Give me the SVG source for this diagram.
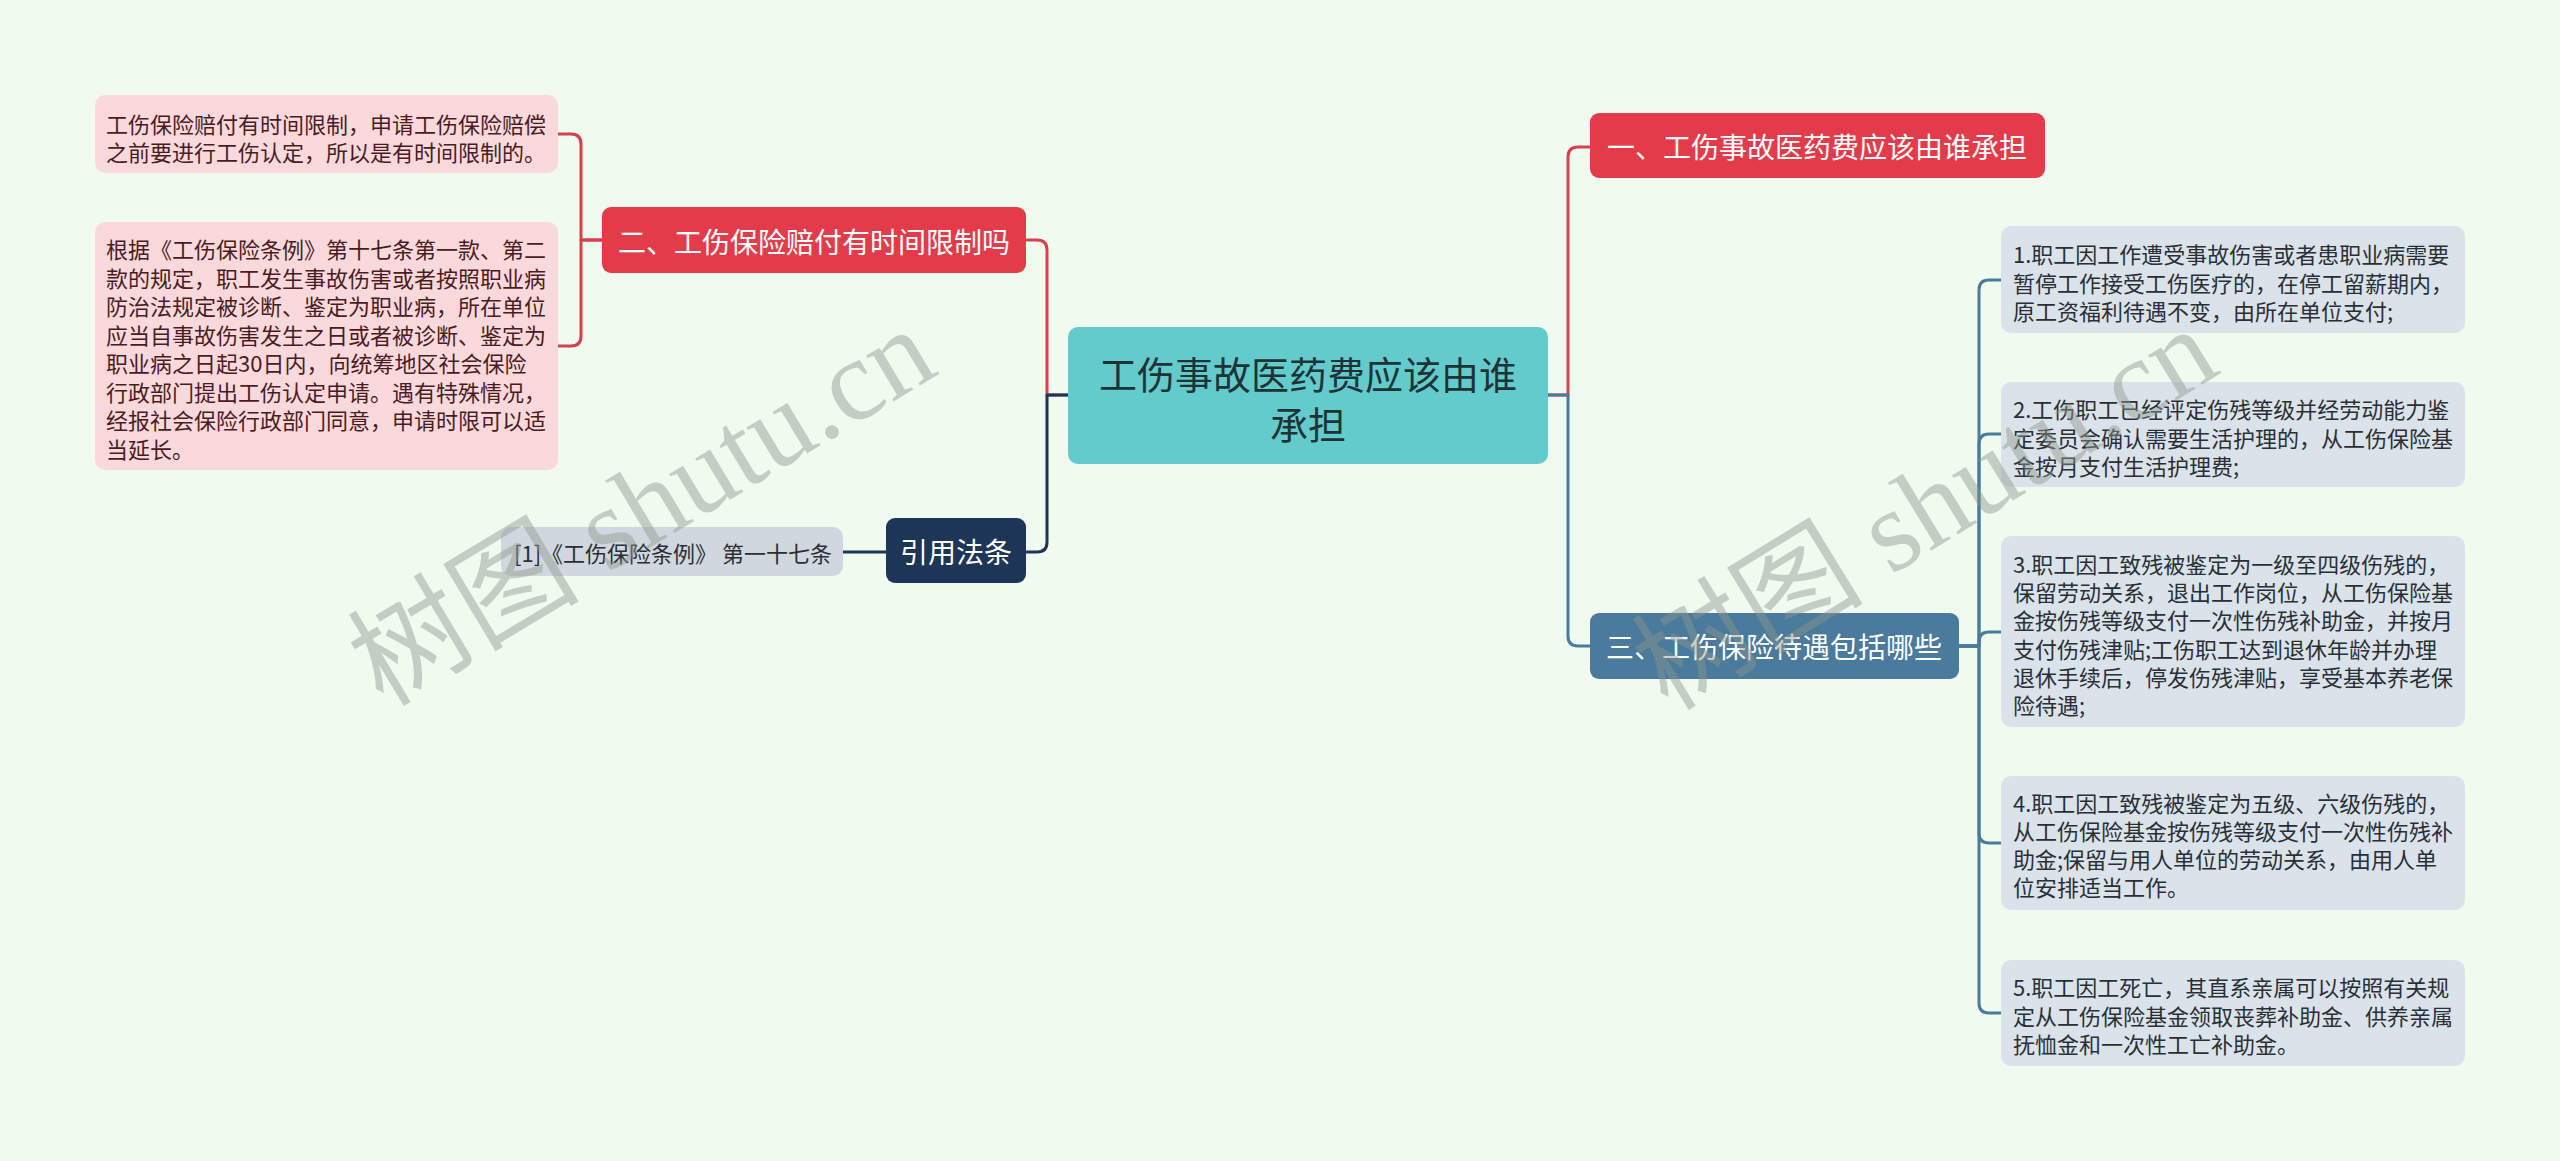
<svg xmlns="http://www.w3.org/2000/svg" width="2560" height="1161" viewBox="0 0 2560 1161">
<style>
text{font-family:"Noto Sans CJK SC","Noto Sans",sans-serif;}
.leaf{font-size:22px;dominant-baseline:central;}
.pk{fill:#4a1c22;}
.bl{fill:#2a2f36;}
.br{font-size:28px;fill:#ffffff;text-anchor:middle;dominant-baseline:central;}
.ctr{font-size:38px;fill:#1d3436;text-anchor:middle;dominant-baseline:central;}
.conn path{fill:none;stroke-width:3;stroke-linecap:round;stroke-linejoin:round;}
.red{stroke:#d9404e;}
.blu{stroke:#4a7a9c;}
.nav{stroke:#1d3557;}
.wm{font-family:"Liberation Serif","Noto Sans CJK SC",serif;font-size:116px;fill:#8e988e;opacity:0.45;}
</style>
<rect width="2560" height="1161" fill="#f0faef"/>

<g id="connectors" class="conn">
  <path class="red" d="M1068 395 H1047 V250 Q1047 240 1037 240 H1027"/>
  <path class="nav" d="M1068 395 H1047 V542 Q1047 552 1037 552 H1027"/>
  <path class="red" d="M602 240 H581 V144 Q581 134 571 134 H558"/>
  <path class="red" d="M602 240 H581 V336 Q581 346 571 346 H558"/>
  <path class="nav" d="M886 552 H843"/>
  <path class="red" d="M1548 395 H1568 V157 Q1568 147 1578 147 H1590"/>
  <path class="blu" d="M1548 395 H1568 V636 Q1568 646 1578 646 H1590"/>
  <path class="blu" d="M1959 646 H1979 V290 Q1979 280 1989 280 H2001"/>
  <path class="blu" d="M1959 646 H1979 V444 Q1979 434 1989 434 H2001"/>
  <path class="blu" d="M1959 646 H1979 V642 Q1979 632 1989 632 H2001"/>
  <path class="blu" d="M1959 646 H1979 V833 Q1979 843 1989 843 H2001"/>
  <path class="blu" d="M1959 646 H1979 V1003 Q1979 1013 1989 1013 H2001"/>
</g>

<g id="center">
  <rect x="1068" y="327" width="480" height="137" rx="10" fill="#63cbcc"/>
  <text class="ctr" x="1308" y="372">工伤事故医药费应该由谁</text>
  <text class="ctr" x="1308" y="422">承担</text>
</g>

<g id="branch1">
  <rect x="1590" y="113" width="455" height="65" rx="9" fill="#e43b4b"/>
  <text class="br" x="1817" y="146">一、工伤事故医药费应该由谁承担</text>
</g>

<g id="branch2">
  <rect x="602" y="207" width="424" height="66" rx="9" fill="#e43b4b"/>
  <text class="br" x="814" y="241">二、工伤保险赔付有时间限制吗</text>
</g>

<g id="branch3">
  <rect x="1590" y="613" width="369" height="66" rx="9" fill="#4a7a9c"/>
  <text class="br" x="1774" y="646">三、工伤保险待遇包括哪些</text>
</g>

<g id="branch4">
  <rect x="886" y="518" width="140" height="65" rx="9" fill="#1d3557"/>
  <text class="br" x="956" y="551">引用法条</text>
</g>

<g id="leafA">
  <rect x="95" y="95" width="463" height="78" rx="10" fill="#fad9dd"/>
  <text class="leaf pk" x="106" y="123">工伤保险赔付有时间限制，申请工伤保险赔偿</text>
  <text class="leaf pk" x="106" y="151">之前要进行工伤认定，所以是有时间限制的。</text>
</g>

<g id="leafB">
  <rect x="95" y="222" width="463" height="248" rx="10" fill="#fad9dd"/>
  <text class="leaf pk" x="106" y="248">根据《工伤保险条例》第十七条第一款、第二</text>
  <text class="leaf pk" x="106" y="276.5">款的规定，职工发生事故伤害或者按照职业病</text>
  <text class="leaf pk" x="106" y="305">防治法规定被诊断、鉴定为职业病，所在单位</text>
  <text class="leaf pk" x="106" y="333.5">应当自事故伤害发生之日或者被诊断、鉴定为</text>
  <text class="leaf pk" x="106" y="362">职业病之日起30日内，向统筹地区社会保险</text>
  <text class="leaf pk" x="106" y="390.5">行政部门提出工伤认定申请。遇有特殊情况，</text>
  <text class="leaf pk" x="106" y="419">经报社会保险行政部门同意，申请时限可以适</text>
  <text class="leaf pk" x="106" y="447.5">当延长。</text>
</g>

<g id="leafRef">
  <rect x="501" y="527" width="342" height="49" rx="10" fill="#d1d7df"/>
  <text class="leaf bl" x="514" y="552">[1]《工伤保险条例》 第一十七条</text>
</g>

<g id="leaf1">
  <rect x="2001" y="226" width="464" height="107" rx="10" fill="#dae3e9"/>
  <text class="leaf bl" x="2013" y="253">1.职工因工作遭受事故伤害或者患职业病需要</text>
  <text class="leaf bl" x="2013" y="281.5">暂停工作接受工伤医疗的，在停工留薪期内，</text>
  <text class="leaf bl" x="2013" y="310">原工资福利待遇不变，由所在单位支付;</text>
</g>

<g id="leaf2">
  <rect x="2001" y="382" width="464" height="105" rx="10" fill="#dae3e9"/>
  <text class="leaf bl" x="2013" y="408">2.工伤职工已经评定伤残等级并经劳动能力鉴</text>
  <text class="leaf bl" x="2013" y="436.5">定委员会确认需要生活护理的，从工伤保险基</text>
  <text class="leaf bl" x="2013" y="465">金按月支付生活护理费;</text>
</g>

<g id="leaf3">
  <rect x="2001" y="536" width="464" height="191" rx="10" fill="#dae3e9"/>
  <text class="leaf bl" x="2013" y="563">3.职工因工致残被鉴定为一级至四级伤残的，</text>
  <text class="leaf bl" x="2013" y="591.2">保留劳动关系，退出工作岗位，从工伤保险基</text>
  <text class="leaf bl" x="2013" y="619.4">金按伤残等级支付一次性伤残补助金，并按月</text>
  <text class="leaf bl" x="2013" y="647.6">支付伤残津贴;工伤职工达到退休年龄并办理</text>
  <text class="leaf bl" x="2013" y="675.8">退休手续后，停发伤残津贴，享受基本养老保</text>
  <text class="leaf bl" x="2013" y="704">险待遇;</text>
</g>

<g id="leaf4">
  <rect x="2001" y="776" width="464" height="134" rx="10" fill="#dae3e9"/>
  <text class="leaf bl" x="2013" y="802">4.职工因工致残被鉴定为五级、六级伤残的，</text>
  <text class="leaf bl" x="2013" y="830">从工伤保险基金按伤残等级支付一次性伤残补</text>
  <text class="leaf bl" x="2013" y="858">助金;保留与用人单位的劳动关系，由用人单</text>
  <text class="leaf bl" x="2013" y="886">位安排适当工作。</text>
</g>

<g id="leaf5">
  <rect x="2001" y="960" width="464" height="106" rx="10" fill="#dae3e9"/>
  <text class="leaf bl" x="2013" y="986">5.职工因工死亡，其直系亲属可以按照有关规</text>
  <text class="leaf bl" x="2013" y="1014.5">定从工伤保险基金领取丧葬补助金、供养亲属</text>
  <text class="leaf bl" x="2013" y="1043">抚恤金和一次性工亡补助金。</text>
</g>

<g id="watermarks">
  <text class="wm" transform="translate(383,708) rotate(-31)">树图 shutu.cn</text>
  <text class="wm" transform="translate(1668,712) rotate(-31.5)">树图 shutu.cn</text>
</g>
</svg>
